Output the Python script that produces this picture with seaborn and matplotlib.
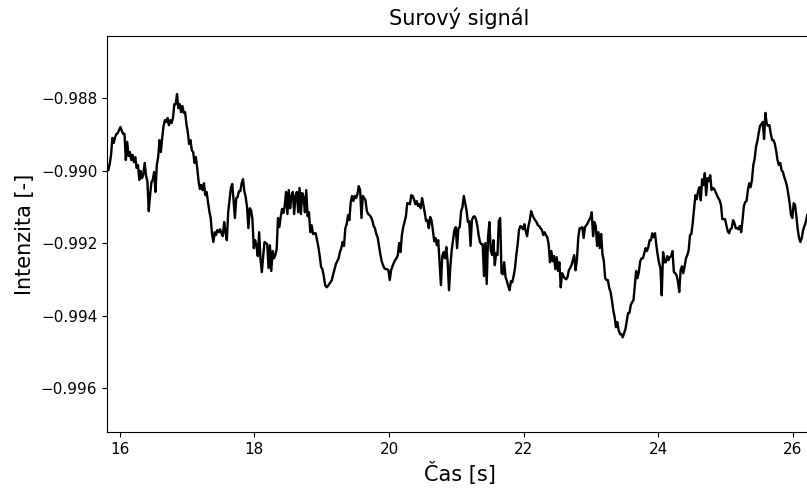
import numpy as np
import pandas as pd
import matplotlib
matplotlib.use("Agg")
import matplotlib.pyplot as plt
import seaborn as sns

# Sampling grid of the recorded signal
t_start = 15.81
t_step = 0.02

intensity = [
    -0.98985, -0.98999, -0.98982, -0.98957, -0.98910, -0.98924, -0.98908, -0.98899, -0.98897, -0.98888,
    -0.98880, -0.98891, -0.98899, -0.98899, -0.98971, -0.98921, -0.98960, -0.98949, -0.98971, -0.98957,
    -0.98977, -0.98963, -0.98993, -0.98985, -0.99026, -0.99001, -0.99021, -0.99010, -0.98979, -0.99015,
    -0.99029, -0.99112, -0.99068, -0.99032, -0.99026, -0.99004, -0.99059, -0.98985, -0.98963, -0.98916,
    -0.98949, -0.98910, -0.98877, -0.98861, -0.98866, -0.98855, -0.98875, -0.98861, -0.98869, -0.98855,
    -0.98817, -0.98817, -0.98789, -0.98828, -0.98817, -0.98839, -0.98822, -0.98841, -0.98839, -0.98872,
    -0.98894, -0.98927, -0.98916, -0.98944, -0.98949, -0.98979, -0.98963, -0.98993, -0.99029, -0.99051,
    -0.99040, -0.99054, -0.99035, -0.99068, -0.99059, -0.99087, -0.99112, -0.99131, -0.99175, -0.99197,
    -0.99170, -0.99178, -0.99164, -0.99170, -0.99162, -0.99173, -0.99181, -0.99142, -0.99170, -0.99192,
    -0.99115, -0.99082, -0.99048, -0.99037, -0.99082, -0.99131, -0.99076, -0.99073, -0.99057, -0.99057,
    -0.99035, -0.99024, -0.99057, -0.99073, -0.99101, -0.99159, -0.99104, -0.99109, -0.99134, -0.99214,
    -0.99192, -0.99208, -0.99236, -0.99170, -0.99244, -0.99280, -0.99236, -0.99197, -0.99200, -0.99203,
    -0.99269, -0.99206, -0.99277, -0.99222, -0.99242, -0.99233, -0.99217, -0.99131, -0.99156, -0.99128,
    -0.99106, -0.99117, -0.99098, -0.99059, -0.99120, -0.99054, -0.99104, -0.99070, -0.99059, -0.99120,
    -0.99070, -0.99059, -0.99115, -0.99048, -0.99120, -0.99062, -0.99073, -0.99115, -0.99054, -0.99126,
    -0.99115, -0.99170, -0.99151, -0.99175, -0.99173, -0.99173, -0.99192, -0.99211, -0.99236, -0.99266,
    -0.99272, -0.99291, -0.99316, -0.99322, -0.99319, -0.99313, -0.99308, -0.99302, -0.99286, -0.99272,
    -0.99258, -0.99250, -0.99242, -0.99225, -0.99214, -0.99197, -0.99208, -0.99159, -0.99148, -0.99123,
    -0.99137, -0.99087, -0.99070, -0.99084, -0.99070, -0.99076, -0.99065, -0.99043, -0.99054, -0.99131,
    -0.99070, -0.99076, -0.99082, -0.99112, -0.99120, -0.99123, -0.99128, -0.99137, -0.99153, -0.99159,
    -0.99175, -0.99184, -0.99208, -0.99231, -0.99250, -0.99261, -0.99269, -0.99272, -0.99272, -0.99275,
    -0.99302, -0.99275, -0.99264, -0.99255, -0.99247, -0.99242, -0.99233, -0.99200, -0.99225, -0.99178,
    -0.99156, -0.99142, -0.99126, -0.99090, -0.99090, -0.99093, -0.99068, -0.99070, -0.99079, -0.99093,
    -0.99084, -0.99098, -0.99093, -0.99104, -0.99076, -0.99095, -0.99117, -0.99139, -0.99137, -0.99159,
    -0.99128, -0.99137, -0.99164, -0.99195, -0.99186, -0.99206, -0.99192, -0.99253, -0.99316, -0.99236,
    -0.99225, -0.99242, -0.99211, -0.99253, -0.99330, -0.99264, -0.99220, -0.99192, -0.99164, -0.99156,
    -0.99214, -0.99159, -0.99156, -0.99112, -0.99101, -0.99070, -0.99090, -0.99109, -0.99142, -0.99139,
    -0.99208, -0.99137, -0.99128, -0.99126, -0.99134, -0.99151, -0.99178, -0.99197, -0.99203, -0.99203,
    -0.99291, -0.99200, -0.99313, -0.99184, -0.99142, -0.99220, -0.99233, -0.99192, -0.99261, -0.99228,
    -0.99233, -0.99139, -0.99131, -0.99283, -0.99286, -0.99253, -0.99294, -0.99305, -0.99319, -0.99330,
    -0.99305, -0.99308, -0.99291, -0.99269, -0.99233, -0.99203, -0.99164, -0.99153, -0.99156, -0.99162,
    -0.99148, -0.99167, -0.99181, -0.99153, -0.99137, -0.99112, -0.99123, -0.99131, -0.99137, -0.99142,
    -0.99151, -0.99153, -0.99159, -0.99164, -0.99178, -0.99170, -0.99178, -0.99184, -0.99203, -0.99253,
    -0.99222, -0.99250, -0.99236, -0.99272, -0.99239, -0.99277, -0.99253, -0.99322, -0.99283, -0.99291,
    -0.99297, -0.99300, -0.99294, -0.99275, -0.99269, -0.99261, -0.99247, -0.99233, -0.99275, -0.99247,
    -0.99186, -0.99159, -0.99159, -0.99156, -0.99186, -0.99156, -0.99151, -0.99145, -0.99137, -0.99131,
    -0.99115, -0.99181, -0.99142, -0.99153, -0.99208, -0.99170, -0.99214, -0.99175, -0.99231, -0.99250,
    -0.99297, -0.99302, -0.99302, -0.99324, -0.99335, -0.99358, -0.99385, -0.99404, -0.99432, -0.99418,
    -0.99440, -0.99451, -0.99451, -0.99460, -0.99449, -0.99438, -0.99415, -0.99393, -0.99393, -0.99371,
    -0.99363, -0.99358, -0.99316, -0.99277, -0.99297, -0.99280, -0.99250, -0.99242, -0.99242, -0.99228,
    -0.99214, -0.99222, -0.99211, -0.99192, -0.99192, -0.99173, -0.99184, -0.99173, -0.99206, -0.99233,
    -0.99255, -0.99269, -0.99344, -0.99225, -0.99253, -0.99253, -0.99236, -0.99247, -0.99239, -0.99236,
    -0.99222, -0.99280, -0.99283, -0.99289, -0.99305, -0.99335, -0.99275, -0.99264, -0.99283, -0.99264,
    -0.99242, -0.99233, -0.99220, -0.99178, -0.99175, -0.99145, -0.99106, -0.99068, -0.99079, -0.99057,
    -0.99046, -0.99082, -0.99024, -0.99040, -0.99007, -0.99068, -0.99021, -0.99029, -0.99013, -0.99054,
    -0.99048, -0.99051, -0.99059, -0.99068, -0.99076, -0.99082, -0.99095, -0.99134, -0.99134, -0.99134,
    -0.99151, -0.99167, -0.99173, -0.99162, -0.99159, -0.99137, -0.99145, -0.99159, -0.99159, -0.99162,
    -0.99153, -0.99170, -0.99137, -0.99098, -0.99087, -0.99084, -0.99054, -0.99035, -0.99046, -0.99026,
    -0.98985, -0.98968, -0.98935, -0.98919, -0.98897, -0.98877, -0.98872, -0.98866, -0.98913, -0.98841,
    -0.98872, -0.98877, -0.98875, -0.98899, -0.98916, -0.98916, -0.98927, -0.98946, -0.98971, -0.98985,
    -0.98979, -0.98999, -0.99004, -0.99018, -0.99029, -0.99043, -0.99065, -0.99090, -0.99123, -0.99131,
    -0.99090, -0.99095, -0.99126, -0.99162, -0.99186, -0.99197, -0.99186, -0.99164, -0.99153, -0.99142,
    -0.99123,
]

time = np.round(t_start + t_step * np.arange(len(intensity)), 3)
df = pd.DataFrame({"Čas [s]": time, "Intenzita [-]": intensity})

W, H = 807, 488
fig = plt.figure(figsize=(W / 100, H / 100), dpi=100)
ax = fig.add_axes([107 / W, (H - 432) / H, (812 - 107) / W, (432 - 36) / H])

sns.lineplot(data=df, x="Čas [s]", y="Intenzita [-]", ax=ax,
             color="black", linewidth=1.7, estimator=None)

ax.set_xlim(15.81, 26.282)
ax.set_ylim(-0.99721, -0.98629)
ax.set_xticks([16, 18, 20, 22, 24, 26])
ax.set_yticks([-0.996, -0.994, -0.992, -0.990, -0.988])
ax.tick_params(labelsize=11)
ax.set_title("Surový signál", fontsize=15, pad=8)
ax.set_xlabel("Čas [s]", fontsize=15)
ax.set_ylabel("Intenzita [-]", fontsize=15)

fig.savefig("out.png", dpi=100)
